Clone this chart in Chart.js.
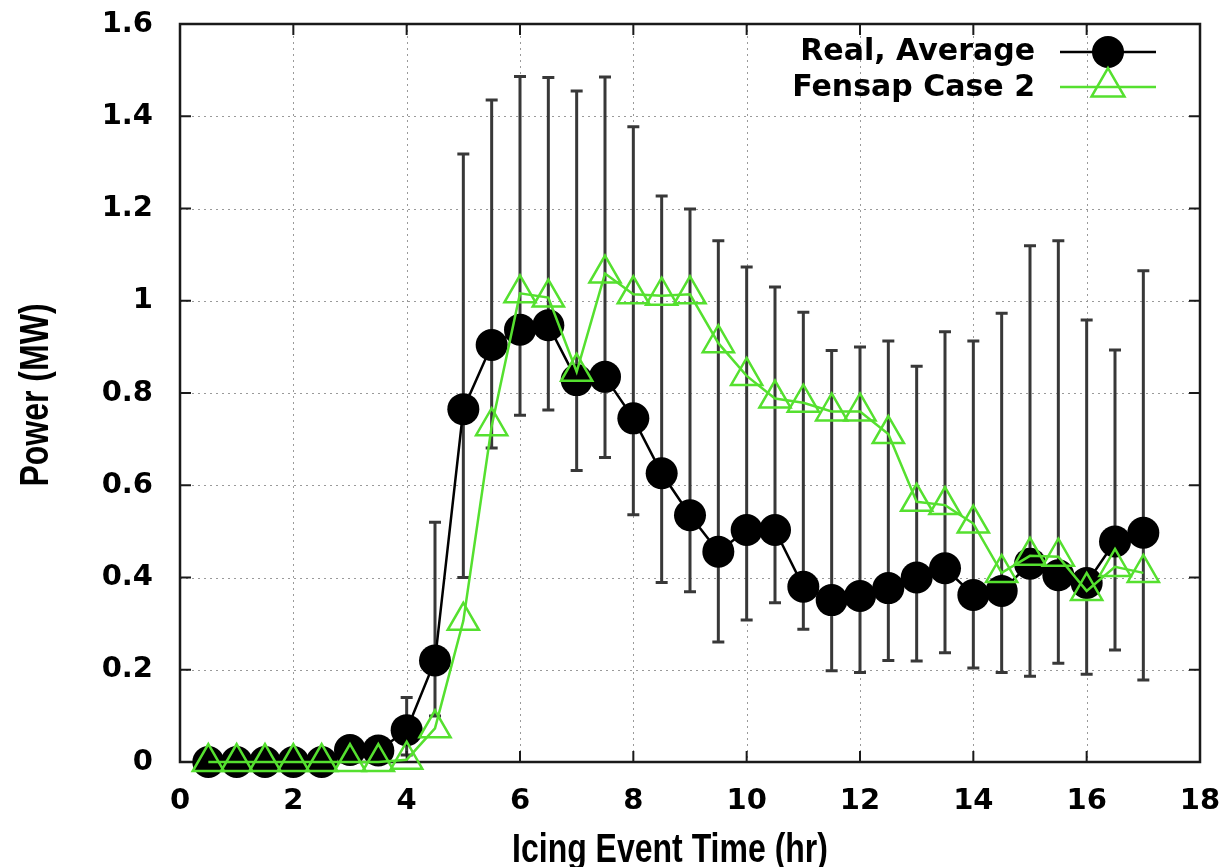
<!DOCTYPE html>
<html>
<head>
<meta charset="utf-8">
<script src="https://cdn.jsdelivr.net/npm/chart.js@4.4.1/dist/chart.umd.min.js"></script>
<style>
  html, body { margin: 0; padding: 0; background: #fff; }
  #wrap { width: 1224px; height: 867px; }
</style>
</head>
<body>
<div id="wrap"><canvas id="chart" width="1224" height="867"></canvas></div>
<script>
// icing event time (hr)
const hours = [0.5, 1, 1.5, 2, 2.5, 3, 3.5, 4, 4.5, 5, 5.5, 6, 6.5, 7, 7.5, 8, 8.5,
               9, 9.5, 10, 10.5, 11, 11.5, 12, 12.5, 13, 13.5, 14, 14.5, 15, 15.5, 16, 16.5, 17];

// measured power (MW), mean and error bar ends
const realAverage = [0, 0, 0, 0, 0, 0.026, 0.025, 0.069, 0.22, 0.765, 0.904, 0.937, 0.947, 0.828, 0.835,
                     0.745, 0.626, 0.535, 0.456, 0.503, 0.503, 0.38, 0.351, 0.36, 0.377, 0.40, 0.42,
                     0.362, 0.371, 0.43, 0.405, 0.388, 0.478, 0.497];
const realUpper = [0, 0, 0, 0, 0, 0.035, 0.035, 0.14, 0.52, 1.318, 1.435, 1.486, 1.484, 1.455, 1.485,
                   1.377, 1.227, 1.199, 1.13, 1.073, 1.03, 0.975, 0.892, 0.90, 0.913, 0.858, 0.933,
                   0.913, 0.973, 1.119, 1.13, 0.958, 0.893, 1.065];
const realLower = [0, 0, 0, 0, 0, 0.015, 0.015, 0.015, 0.10, 0.40, 0.681, 0.752, 0.763, 0.632, 0.66,
                   0.536, 0.389, 0.369, 0.26, 0.308, 0.345, 0.288, 0.198, 0.194, 0.22, 0.219, 0.237,
                   0.204, 0.194, 0.186, 0.214, 0.19, 0.243, 0.178];

// simulated power (MW)
const fensapCase2 = [0, 0, 0, 0, 0, 0, 0, 0.005, 0.073, 0.306, 0.728, 1.016, 1.007, 0.846, 1.059,
                     1.014, 1.011, 1.014, 0.908, 0.837, 0.788, 0.779, 0.76, 0.76, 0.711, 0.564, 0.557,
                     0.517, 0.41, 0.447, 0.445, 0.371, 0.423, 0.41];

const xTicks = [0, 2, 4, 6, 8, 10, 12, 14, 16, 18];
const yTicks = [0, 0.2, 0.4, 0.6, 0.8, 1.0, 1.2, 1.4, 1.6];
const yTickLabels = ['0', '0.2', '0.4', '0.6', '0.8', '1', '1.2', '1.4', '1.6'];

const GREEN = '#55e02f';
const TICK_FONT = { family: '"DejaVu Sans", sans-serif', size: 29, weight: 'bold' };
const TITLE_FONT = 'bold 40px "Liberation Sans", Arial, sans-serif';
const LEGEND_FONT = 'bold 30px "DejaVu Sans", sans-serif';

// narrow bold text, like the Helvetica Narrow of the original
function narrowText(ctx, text, x, y, angle) {
    ctx.save();
    ctx.translate(x, y);
    if (angle) ctx.rotate(angle);
    ctx.scale(0.8, 1);
    ctx.fillText(text, 0, 0);
    ctx.restore();
}

// gnuplot style frame: dotted grid, error bars, inner ticks, legend, titles
const gnuplotFrame = {
    id: 'gnuplotFrame',
    beforeDatasetsDraw(chart) {
        const { ctx, chartArea: a, scales: { x, y } } = chart;
        ctx.save();

        ctx.strokeStyle = '#9a9a9a';
        ctx.lineWidth = 1;
        ctx.setLineDash([2, 4]);
        xTicks.slice(1, -1).forEach(v => {
            const px = Math.round(x.getPixelForValue(v)) + 0.5;
            ctx.beginPath();
            ctx.moveTo(px, a.top);
            ctx.lineTo(px, a.bottom);
            ctx.stroke();
        });
        yTicks.slice(1, -1).forEach(v => {
            const py = Math.round(y.getPixelForValue(v)) + 0.5;
            ctx.beginPath();
            ctx.moveTo(a.left, py);
            ctx.lineTo(a.right, py);
            ctx.stroke();
        });
        ctx.setLineDash([]);

        // error bars of the measured data
        ctx.strokeStyle = '#383838';
        ctx.lineWidth = 3;
        hours.forEach((h, i) => {
            const px = x.getPixelForValue(h);
            const top = y.getPixelForValue(realUpper[i]);
            const bot = y.getPixelForValue(realLower[i]);
            if (bot - top < 1) return;
            ctx.beginPath();
            ctx.moveTo(px, top);
            ctx.lineTo(px, bot);
            ctx.moveTo(px - 6, top);
            ctx.lineTo(px + 6, top);
            ctx.moveTo(px - 6, bot);
            ctx.lineTo(px + 6, bot);
            ctx.stroke();
        });

        // border
        ctx.strokeStyle = '#1a1a1a';
        ctx.lineWidth = 2.5;
        ctx.strokeRect(a.left, a.top, a.right - a.left, a.bottom - a.top);

        // ticks pointing inward, mirrored
        ctx.lineWidth = 2;
        const tl = 11;
        xTicks.forEach(v => {
            const px = x.getPixelForValue(v);
            ctx.beginPath();
            ctx.moveTo(px, a.bottom);
            ctx.lineTo(px, a.bottom - tl);
            ctx.moveTo(px, a.top);
            ctx.lineTo(px, a.top + tl);
            ctx.stroke();
        });
        yTicks.forEach(v => {
            const py = y.getPixelForValue(v);
            ctx.beginPath();
            ctx.moveTo(a.left, py);
            ctx.lineTo(a.left + tl, py);
            ctx.moveTo(a.right, py);
            ctx.lineTo(a.right - tl, py);
            ctx.stroke();
        });
        ctx.restore();
    },
    afterDraw(chart) {
        const { ctx } = chart;
        ctx.save();

        // legend
        ctx.font = LEGEND_FONT;
        ctx.fillStyle = '#000';
        ctx.textAlign = 'right';
        ctx.textBaseline = 'middle';
        ctx.fillText('Real, Average', 1035, 52);
        ctx.fillText('Fensap Case 2', 1035, 88);

        ctx.lineWidth = 2.5;
        ctx.strokeStyle = '#000';
        ctx.beginPath();
        ctx.moveTo(1060, 52);
        ctx.lineTo(1156, 52);
        ctx.stroke();
        ctx.beginPath();
        ctx.arc(1108, 52, 16, 0, Math.PI * 2);
        ctx.fill();

        ctx.strokeStyle = GREEN;
        ctx.beginPath();
        ctx.moveTo(1060, 87);
        ctx.lineTo(1156, 87);
        ctx.stroke();
        ctx.fillStyle = 'rgba(0,0,0,0)';
        Chart.helpers.drawPoint(ctx, { pointStyle: 'triangle', radius: 19, borderWidth: 2.5 }, 1108, 87);

        // axis titles
        ctx.fillStyle = '#000';
        ctx.font = TITLE_FONT;
        ctx.textAlign = 'center';
        ctx.textBaseline = 'alphabetic';
        narrowText(ctx, 'Icing Event Time (hr)', 670, 862, 0);
        narrowText(ctx, 'Power (MW)', 48, 395, -Math.PI / 2);
        ctx.restore();
    }
};

document.addEventListener('DOMContentLoaded', function () {
    const ctx = document.getElementById('chart').getContext('2d');

    new Chart(ctx, {
        type: 'line',
        data: {
            datasets: [
                {
                    label: 'Fensap Case 2',
                    data: hours.map((h, i) => ({ x: h, y: fensapCase2[i] })),
                    borderColor: GREEN,
                    borderWidth: 2.5,
                    pointStyle: 'triangle',
                    pointRadius: 18,
                    pointBackgroundColor: 'rgba(0,0,0,0)',
                    pointBorderColor: GREEN,
                    pointBorderWidth: 2.5,
                    tension: 0,
                    clip: false,
                    order: 0
                },
                {
                    label: 'Real, Average',
                    data: hours.map((h, i) => ({ x: h, y: realAverage[i] })),
                    borderColor: '#000',
                    borderWidth: 2.5,
                    pointStyle: 'circle',
                    pointRadius: 16,
                    pointBackgroundColor: '#000',
                    pointBorderWidth: 0,
                    tension: 0,
                    clip: false,
                    order: 1
                }
            ]
        },
        options: {
            responsive: false,
            animation: false,
            devicePixelRatio: 1,
            layout: { padding: { top: 24, right: 24, left: 0, bottom: 0 } },
            plugins: {
                legend: { display: false },
                tooltip: { enabled: false }
            },
            scales: {
                x: {
                    type: 'linear',
                    min: 0,
                    max: 18,
                    afterBuildTicks: scale => { scale.ticks = xTicks.map(v => ({ value: v })); },
                    afterFit: scale => {
                        scale.height = 105;
                        scale.paddingLeft = 0;
                        scale.paddingRight = 0;
                    },
                    grid: { display: false, drawTicks: false },
                    border: { display: false },
                    ticks: {
                        font: TICK_FONT,
                        color: '#000',
                        padding: 22,
                        maxRotation: 0,
                        callback: v => String(v)
                    }
                },
                y: {
                    type: 'linear',
                    min: 0,
                    max: 1.6,
                    afterBuildTicks: scale => { scale.ticks = yTicks.map(v => ({ value: v })); },
                    afterFit: scale => {
                        scale.width = 180;
                        scale.paddingTop = 0;
                        scale.paddingBottom = 0;
                    },
                    grid: { display: false, drawTicks: false },
                    border: { display: false },
                    ticks: {
                        font: TICK_FONT,
                        color: '#000',
                        padding: 27,
                        callback: (v, i) => yTickLabels[i]
                    }
                }
            }
        },
        plugins: [gnuplotFrame]
    });
});
</script>
</body>
</html>
